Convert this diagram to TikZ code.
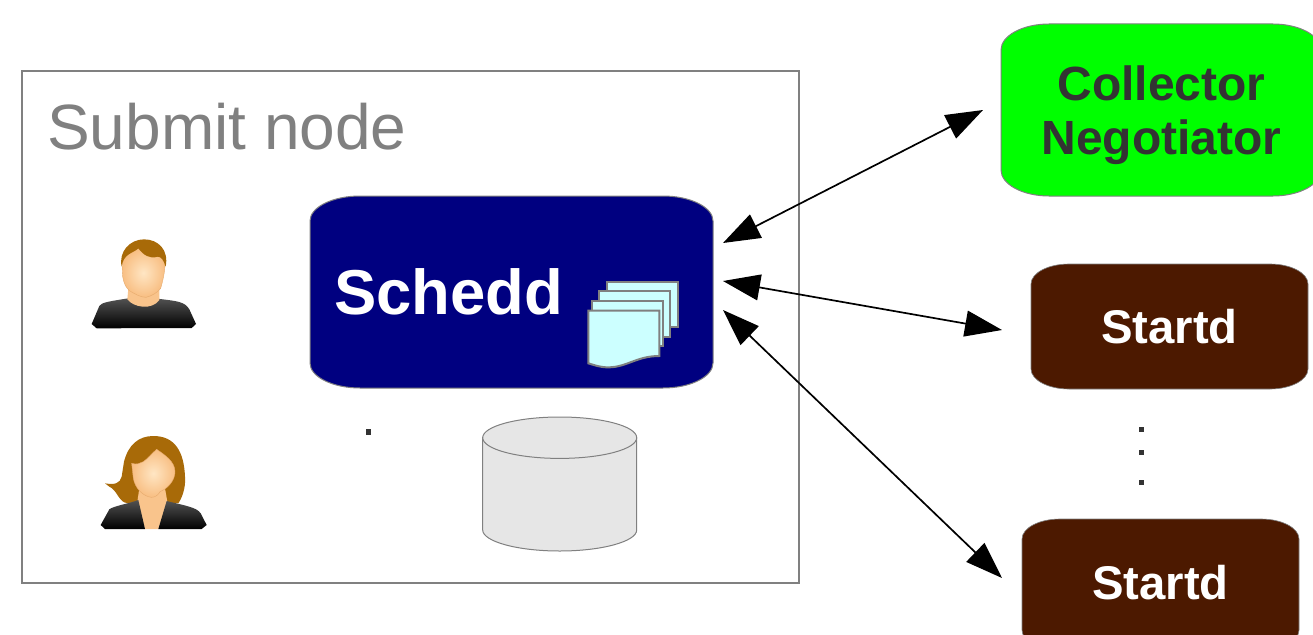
\documentclass[tikz,border=0pt]{standalone}
\usepackage{fontspec}
\setmainfont{Liberation Sans}
\usetikzlibrary{arrows.meta,calc}
\definecolor{schednavy}{HTML}{000080}
\definecolor{collgreen}{HTML}{00FF00}
\definecolor{startbrown}{HTML}{4C1900}
\definecolor{inkdark}{HTML}{333333}
\definecolor{edgegray}{HTML}{808080}
\definecolor{pagecyan}{HTML}{CCFFFF}
\definecolor{cylgray}{HTML}{E6E6E6}
\definecolor{hairbrown}{HTML}{A86A08}
\definecolor{skinlight}{HTML}{FFE6C4}
\definecolor{skinedge}{HTML}{F8BE82}
\tikzset{
  anchorbox/.style={rectangle,draw=none,fill=none,inner sep=0pt,outer sep=0pt},
  schedshape/.style={fill=schednavy,draw=edgegray,line width=1pt},
  collshape/.style={fill=collgreen,draw=edgegray,line width=1pt},
  startshape/.style={fill=startbrown,draw=edgegray,line width=.6pt},
  biglabel/.style={inner sep=0pt,outer sep=0pt,font=\bfseries\fontsize{48}{48}\selectfont},
  startlabel/.style={inner sep=0pt,outer sep=0pt,anchor=base,text=white,font=\bfseries\fontsize{47.3}{48}\selectfont},
  link/.style={line width=1.7pt,{Triangle[length=37pt,width=26pt]}-{Triangle[length=37pt,width=26pt]}},
  pagesheet/.style={fill=pagecyan,draw=edgegray,line width=2pt},
  dotmark/.style={fill=inkdark,draw=none},
  jacket/.style={top color=black!68,bottom color=black,draw=none},
  hairshape/.style={fill=hairbrown,draw=none},
  faceshape/.style={inner color=skinlight,outer color=skinedge,draw=skinedge!70!brown,line width=.4pt},
  neckshape/.style={fill=skinedge!85!skinlight,draw=none},
}
\newcommand{\softbox}[4]{%
  \path[#2] let \p1=(#1.south west), \p2=(#1.north east),
    \n1={#3*1pt}, \n2={#4*1pt}, \n3={0.45*#3*1pt}, \n4={0.45*#4*1pt} in
    (\x1,\y2-\n2) .. controls (\x1,\y2-\n4) and (\x1+\n3,\y2) .. (\x1+\n1,\y2)
    -- (\x2-\n1,\y2) .. controls (\x2-\n3,\y2) and (\x2,\y2-\n4) .. (\x2,\y2-\n2)
    -- (\x2,\y1+\n2) .. controls (\x2,\y1+\n4) and (\x2-\n3,\y1) .. (\x2-\n1,\y1)
    -- (\x1+\n1,\y1) .. controls (\x1+\n3,\y1) and (\x1,\y1+\n4) .. (\x1,\y1+\n2)
    -- cycle;}
\begin{document}
\begin{tikzpicture}[x=1pt,y=-1pt]
\useasboundingbox (0,0) rectangle (1313,634);
\fill[white] (0,0) rectangle (1313,634);
\clip (0,0) rectangle (1313,634);

% submit node frame
\node[anchorbox,draw=edgegray,line width=1.8pt,minimum width=777pt,minimum height=512pt] (submit) at (410.5,327) {};
\node[inner sep=0pt,anchor=base west,text=edgegray,font=\fontsize{64}{64}\selectfont] (submitlabel) at (47,149) {Submit node};

% main boxes
\node[anchorbox,minimum width=403pt,minimum height=192pt] (schedd) at (511.5,292) {};
\softbox{schedd}{schedshape}{50}{25}
\node[biglabel,anchor=base west,text=white,font=\bfseries\fontsize{63.4}{63}\selectfont] (scheddlabel) at (334,314) {Schedd};

\node[anchorbox,minimum width=320pt,minimum height=172pt] (collector) at (1161,110) {};
\softbox{collector}{collshape}{48}{26}
\node[biglabel,anchor=base,text=inkdark] (colllabel) at (1161.5,100) {Collector};
\node[biglabel,anchor=base,text=inkdark] (negolabel) at (1161.5,154) {Negotiator};

\node[anchorbox,minimum width=277pt,minimum height=125pt] (startda) at (1169.5,326.5) {};
\softbox{startda}{startshape}{38}{20}
\node[startlabel] (startdalabel) at (1169.5,343) {Startd};

\node[anchorbox,minimum width=277pt,minimum height=131pt] (startdb) at (1160.5,584.5) {};
\softbox{startdb}{startshape}{38}{20}
\node[startlabel] (startdblabel) at (1160.5,599) {Startd};

% dots
\fill[dotmark] (1138.5,426.5) rectangle ++(5.5,5.5);
\fill[dotmark] (1138.5,449.5) rectangle ++(5.5,5.5);
\fill[dotmark] (1138.5,479.5) rectangle ++(5.5,5.5);
\fill[dotmark] (365.5,429) rectangle ++(5.5,5.5);

% connectors
\coordinate (sa) at ([xshift=10pt,yshift=49pt]schedd.east);
\coordinate (sb) at ([xshift=10pt,yshift=11pt]schedd.east);
\coordinate (sc) at ([xshift=10pt,yshift=-18pt]schedd.east);
\coordinate (ca) at ([xshift=-18pt]collector.west);
\coordinate (da) at ([xshift=-29pt,yshift=-3.5pt]startda.west);
\coordinate (db) at ([xshift=-20pt,yshift=6.5pt]startdb.west);
\draw[link] (sa) -- (ca);
\draw[link] (sb) -- (da);
\draw[link] (sc) -- (db);

% job pages
\begin{scope}[shift={(570,260)},x=1/3*1pt,y=-1/3*1pt]
  \path[pagesheet] (110,65) rectangle (323,202);
  \path[pagesheet] (88,92) rectangle (301,230);
  \path[pagesheet] (67,122) rectangle (278,258);
  \path[pagesheet] (55,152) -- (268,152) -- (268,288) .. controls (200,288) and (170,322) .. (115,322) .. controls (90,322) and (75,316) .. (55,310) -- cycle;
\end{scope}

% cylinder
\path[fill=cylgray,draw=edgegray,line width=1pt] (482.7,437.7) -- (482.7,530) .. controls (482.7,541.4) and (517,551) .. (559.7,551) .. controls (602,551) and (636.7,541.4) .. (636.7,530) -- (636.7,437.7) -- cycle;
\path[fill=cylgray,draw=edgegray,line width=1pt] (559.7,437.7) ellipse [x radius=77,y radius=20.7];

% man
\begin{scope}[shift={(70,220)},x=1/3*1pt,y=-1/3*1pt]
  \path[jacket] (65,312) -- (88,258) .. controls (95,248) and (110,245) .. (175,235) -- (270,237) .. controls (320,243) and (345,245) .. (358,268) -- (378,312) -- (365,324) -- (80,325) -- cycle;
  \path[neckshape] (175,205) -- (172,238) .. controls (190,262) and (245,272) .. (268,240) -- (268,205) -- cycle;
  \path[faceshape] (157,130) .. controls (155,170) and (160,195) .. (178,212) .. controls (195,222) and (212,232) .. (228,232) .. controls (245,228) and (262,218) .. (272,205) .. controls (282,170) and (285,150) .. (285,125) .. controls (270,100) and (230,90) .. (205,85) .. controls (180,95) and (160,105) .. (157,130) -- cycle;
  \path[hairshape] (155,140) .. controls (145,95) and (180,58) .. (222,58) .. controls (265,58) and (297,90) .. (287,140) .. controls (280,120) and (275,110) .. (262,110) .. controls (240,118) and (220,105) .. (205,85) .. controls (190,100) and (160,100) .. (155,140) -- cycle;
\end{scope}

% woman
\begin{scope}[shift={(80,420)},x=1/3*1pt,y=-1/3*1pt]
  \path[hairshape] (132,125) .. controls (145,75) and (175,48) .. (220,48) .. controls (285,48) and (312,95) .. (315,170) .. controls (318,205) and (305,235) .. (295,250) -- (180,240) .. controls (165,245) and (150,252) .. (135,248) .. controls (115,240) and (110,210) .. (88,200) -- (75,190) .. controls (105,195) and (120,190) .. (125,170) -- cycle;
  \path[neckshape] (178,205) -- (172,245) -- (195,327) -- (235,327) -- (262,245) -- (255,205) -- cycle;
  \path[jacket] (62,315) -- (88,268) .. controls (100,258) and (150,250) .. (175,240) -- (195,327) -- (75,327) -- cycle;
  \path[jacket] (260,243) -- (235,327) -- (365,327) -- (380,315) -- (362,280) .. controls (350,262) and (320,258) .. (260,243) -- cycle;
  \path[faceshape] (155,130) .. controls (170,135) and (180,130) .. (190,125) .. controls (205,115) and (215,100) .. (230,88) .. controls (255,105) and (285,125) .. (285,155) .. controls (285,180) and (265,205) .. (240,215) .. controls (235,225) and (225,232) .. (215,232) .. controls (190,230) and (165,205) .. (160,175) -- cycle;
\end{scope}
\end{tikzpicture}
\end{document}
